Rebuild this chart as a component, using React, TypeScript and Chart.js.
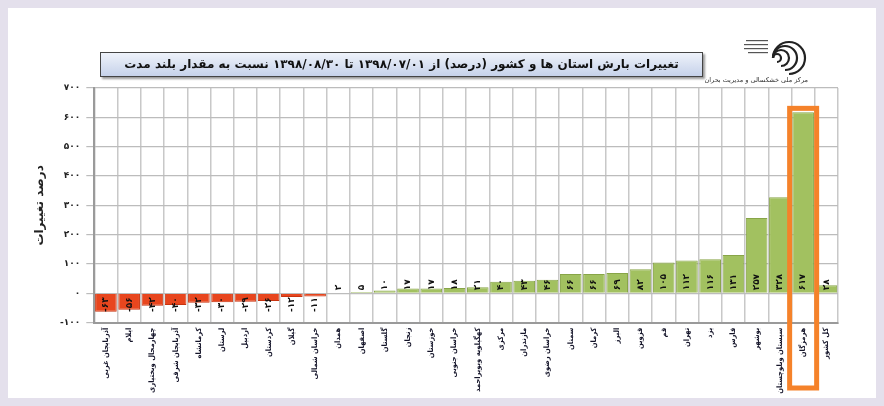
import React, { useEffect, useRef } from "react";
import { Chart, registerables } from "chart.js";

Chart.register(...registerables);

const categories: string[] = [
  "آذربایجان غربی", "ایلام", "چهارمحال وبختیاری", "آذربایجان شرقی", "کرمانشاه",
  "لرستان", "اردبیل", "کردستان", "گیلان", "خراسان شمالی",
  "همدان", "اصفهان", "گلستان", "زنجان", "خوزستان", "خراسان جنوبی",
  "کهگیلویه وبویراحمد", "مرکزی", "مازندران", "خراسان رضوی", "سمنان", "کرمان",
  "البرز", "قزوین", "قم", "تهران", "یزد", "فارس", "بوشهر", "سیستان وبلوچستان",
  "هرمزگان", "کل کشور",
];

const values: number[] = [
  -63, -56, -42, -40, -32, -30, -29, -26, -12, -11,
  2, 5, 10, 17, 17, 18, 21, 40, 43, 46, 66, 66, 69, 82, 105, 112, 116, 131, 257, 328,
  617, 28,
];

const highlightIndex = 30;
const yMin = -100;
const yMax = 700;
const yStep = 100;

const titleText =
  "تغییرات بارش استان ها و کشور (درصد) از ۱۳۹۸/۰۷/۰۱ تا ۱۳۹۸/۰۸/۳۰ نسبت به مقدار بلند مدت";
const yTitle = "درصد تغییرات";
const logoText = "مرکز ملی خشکسالی و مدیریت بحران";

const FONT = '"DejaVu Sans", sans-serif';
const FONT_C = '"DejaVu Sans Condensed", "DejaVu Sans", sans-serif';

const fa = (v: number | string) =>
  String(v).replace(/\d/g, (d) => "۰۱۲۳۴۵۶۷۸۹"[+d]);

const valueLabels = {
  id: "valueLabels",
  afterDatasetsDraw(chart: any) {
    const ctx = chart.ctx;
    const meta = chart.getDatasetMeta(0);
    const y0 = chart.scales.y.getPixelForValue(0);
    meta.data.forEach((bar: any, i: number) => {
      const v = values[i];
      ctx.save();
      ctx.translate(bar.x, v >= 0 ? y0 - 3 : y0 + 4);
      ctx.rotate(-Math.PI / 2);
      ctx.font = `bold 9px ${FONT}`;
      ctx.fillStyle = "#111";
      ctx.textBaseline = "middle";
      ctx.textAlign = v >= 0 ? "left" : "right";
      ctx.fillText(fa(v), 0, 0);
      ctx.restore();
    });
  },
};

const highlightBox = {
  id: "highlightBox",
  afterDraw(chart: any) {
    const ctx = chart.ctx;
    const x = chart.scales.x.getPixelForValue(highlightIndex);
    const top = chart.scales.y.getPixelForValue(values[highlightIndex]) - 4;
    const bottom = 380;
    ctx.save();
    ctx.strokeStyle = "#f5822a";
    ctx.lineWidth = 5;
    ctx.strokeRect(x - 13.5, top, 27, bottom - top);
    ctx.restore();
  },
};

export default function App() {
  const ref = useRef<HTMLCanvasElement | null>(null);

  useEffect(() => {
    document.body.style.background = "#e4e0ec";
    const canvas = ref.current!;
    const chart = new Chart(canvas, {
      type: "bar",
      data: {
        labels: categories,
        datasets: [
          {
            data: values,
            backgroundColor: values.map((v) => (v < 0 ? "#e8461e" : "#a2c160")),
            borderColor: values.map((v) => (v < 0 ? "#c8330f" : "#88a548")),
            borderWidth: 1,
            barPercentage: 0.93,
            categoryPercentage: 1,
          },
        ],
      },
      options: {
        responsive: false,
        animation: false,
        layout: { padding: { left: 21, top: 80, right: 38, bottom: 0 } },
        plugins: { legend: { display: false }, tooltip: { enabled: false }, title: { display: false } },
        scales: {
          x: {
            afterFit: (s: any) => {
              s.height = 75.3;
            },
            grid: { color: "#c8c8c8", lineWidth: 1.5, tickLength: 0, offset: true },
            border: { color: "#9a9a9a", width: 2 },
            ticks: {
              autoSkip: false,
              minRotation: 90,
              maxRotation: 90,
              padding: 5,
              color: "#15152a",
              font: { family: FONT_C, size: 7.5, weight: "bold" },
            },
          },
          y: {
            min: yMin,
            max: yMax,
            afterFit: (s: any) => {
              s.width = 65.3;
            },
            grid: { color: "#bcbcbc", lineWidth: 1.2, tickLength: 8 },
            border: { color: "#9a9a9a", width: 2 },
            ticks: {
              stepSize: yStep,
              padding: 6,
              color: "#222",
              font: { family: FONT, size: 9, weight: "bold" },
              callback: (v: any) => fa(v),
            },
            title: {
              display: true,
              text: yTitle,
              color: "#222",
              font: { family: FONT, size: 12, weight: "bold" },
            },
          },
        },
      },
      plugins: [valueLabels, highlightBox],
    });
    return () => chart.destroy();
  }, []);

  return (
    <div style={{ position: "relative", width: 868, height: 390, background: "#fff" }}>
      <canvas ref={ref} width={868} height={390} style={{ display: "block" }} />
      <div
        dir="rtl"
        style={{
          position: "absolute",
          left: 92,
          top: 44,
          width: 601,
          height: 23,
          border: "1px solid #444",
          background: "linear-gradient(#eef2fa, #c6d2ea)",
          boxShadow: "2px 2px 2px #9a9a9a",
          fontFamily: FONT,
          fontWeight: "bold",
          fontSize: 12,
          lineHeight: "23px",
          textAlign: "center",
          color: "#111",
          whiteSpace: "nowrap",
        }}
      >
        {titleText}
      </div>
      <svg
        style={{ position: "absolute", left: 730, top: 28, overflow: "visible" }}
        width={80}
        height={50}
      >
        <g fill="none" stroke="#222" strokeWidth={2.2}>
          <path d="M35 22 a4 4 0 1 1 4 4" />
          <path d="M35 22 a8 8 0 1 1 8 8" />
          <path d="M35 22 a12 12 0 1 1 12 12" />
          <path d="M35 22 a16 16 0 1 1 16 16" />
        </g>
        <g fill="#555">
          <rect x={8} y={4} width={22} height={1.2} />
          <rect x={6} y={8} width={24} height={1.2} />
          <rect x={6} y={12} width={24} height={1.2} />
          <rect x={10} y={16} width={20} height={1.2} />
        </g>
      </svg>
      <div
        dir="rtl"
        style={{
          position: "absolute",
          left: 708,
          top: 68,
          width: 92,
          fontFamily: FONT,
          fontSize: 6.5,
          color: "#333",
          textAlign: "right",
          whiteSpace: "nowrap",
        }}
      >
        {logoText}
      </div>
    </div>
  );
}
